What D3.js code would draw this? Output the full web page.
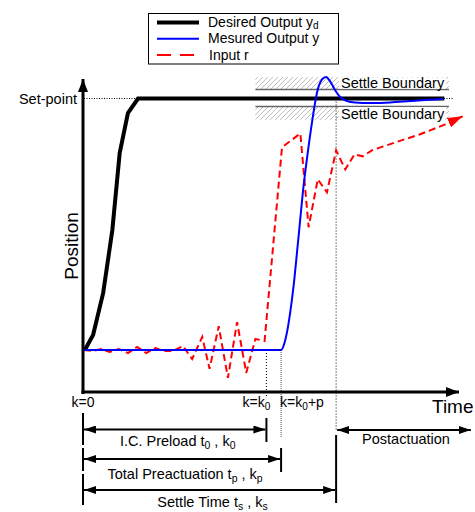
<!DOCTYPE html>
<html>
<head>
<meta charset="utf-8">
<script src="https://cdn.jsdelivr.net/npm/d3@7"></script>
<style>
  html, body { margin: 0; padding: 0; background: #fff; }
  svg { display: block; font-family: "Liberation Sans", Arial, sans-serif; }
</style>
</head>
<body>
<svg id="chart" width="475" height="512"></svg>
<script>
// Time in sample steps k, position normalised so 0 = start level, 1 = set-point
const desiredK   = [0.2, 1.1, 2.2, 3.2, 4.0, 4.9, 6.0, 39.4];
const desiredPos = [0.0, 0.06, 0.227, 0.477, 0.783, 0.942, 1.0, 1.0];

const measuredK   = [0, 21.6, 21.9, 22.25, 22.6, 23.0, 23.33, 23.66, 24.0, 24.43, 24.97, 25.52, 26.07, 26.5, 26.93, 27.48, 28.03, 28.79, 29.66, 31.3, 33.5, 35.7, 37.3, 39.3];
const measuredPos = [0, 0, 0.02, 0.072, 0.151, 0.266, 0.386, 0.509, 0.636, 0.763, 0.905, 1.024, 1.076, 1.085, 1.069, 1.034, 1.006, 0.99, 0.984, 0.982, 0.984, 0.99, 0.994, 0.998];

const inputK   = [0.1, 1.1, 2.0, 2.9, 3.9, 4.9, 5.9, 6.9, 7.9, 8.8, 9.8, 10.9, 11.9, 13.0, 13.8, 14.8, 15.8, 16.8, 17.8, 18.8, 19.8, 21.7, 23.7, 24.6, 25.6, 26.6, 27.6, 28.6, 29.6, 30.5, 31.5, 34.0, 36.7, 39.5, 41.4];
const inputPos = [0, -0.004, 0.004, -0.008, 0.004, -0.012, 0.012, -0.012, 0.008, -0.004, -0.004, 0.016, -0.036, 0.052, -0.075, 0.095, -0.111, 0.111, -0.091, 0.044, 0.036, 0.806, 0.861, 0.488, 0.679, 0.627, 0.794, 0.718, 0.778, 0.770, 0.794, 0.825, 0.857, 0.897, 0.929];

// Key instants on the time axis: k = 0, k0, k0 + p, ks
const kZero = 0, kPreload = 20, kPreact = 21.6, kSettle = 27.6, kEnd = 41;
const setPoint = 1;
const settleUpper = [1.036, 1.085];
const settleLower = [0.968, 0.915];
const bandK = [18.8, 39.9];

const legendLabels = [
  [{t: "Desired Output y"}, {t: "d", sub: true}],
  [{t: "Mesured Output y"}],
  [{t: "Input r"}]
];

const svg = d3.select("#chart");
const x = d3.scaleLinear().domain([0, kEnd]).range([83, 459]);
const y = d3.scaleLinear().domain([0, 1]).range([350, 98.5]);

const defs = svg.append("defs");
const hatch = defs.append("pattern")
  .attr("id", "hatch").attr("patternUnits", "userSpaceOnUse")
  .attr("width", 5).attr("height", 5);
hatch.append("path").attr("d", "M-1,1 L1,-1 M0,5 L5,0 M4,6 L6,4")
  .attr("stroke", "#bdbdbd").attr("stroke-width", 1);

function arrowMarker(id, color, w, h) {
  defs.append("marker").attr("id", id)
    .attr("viewBox", `0 0 ${w} ${h}`).attr("refX", w).attr("refY", h / 2)
    .attr("markerWidth", w).attr("markerHeight", h)
    .attr("markerUnits", "userSpaceOnUse").attr("orient", "auto-start-reverse")
    .append("path").attr("d", `M0,0 L${w},${h / 2} L0,${h} Z`).attr("fill", color);
}
arrowMarker("arrBlack", "#000", 12, 8);
arrowMarker("arrAxis", "#000", 13, 10);
arrowMarker("arrRed", "#ff0000", 15, 10);

// Text made of plain runs and subscript runs
function richText(sel, parts, size, drop = 0.2) {
  let shift = 0;
  parts.forEach(p => {
    const ts = sel.append("tspan").text(p.t);
    if (p.sub) {
      const s = size * drop;
      ts.attr("font-size", size * 0.72).attr("dy", s - shift);
      shift = s;
    } else {
      ts.attr("font-size", size);
      if (shift) { ts.attr("dy", -shift); shift = 0; }
    }
  });
  return sel;
}

// Settling band around the set-point
[settleUpper, settleLower].forEach(b => {
  svg.append("rect")
    .attr("x", x(bandK[0])).attr("width", x(bandK[1]) - x(bandK[0]))
    .attr("y", y(d3.max(b))).attr("height", Math.abs(y(b[0]) - y(b[1])))
    .attr("fill", "url(#hatch)");
});
[settleUpper[0], settleLower[0]].forEach(v => {
  svg.append("line")
    .attr("x1", x(bandK[0])).attr("x2", x(bandK[1]))
    .attr("y1", y(v)).attr("y2", y(v))
    .attr("stroke", "#666").attr("stroke-width", 1.5);
});
[[settleUpper, 88], [settleLower, 118.5]].forEach(([b, base]) => {
  svg.append("rect")
    .attr("x", 339).attr("width", 107)
    .attr("y", y(d3.max(b)) + 0.5).attr("height", Math.abs(y(b[0]) - y(b[1])) - 1.2)
    .attr("fill", "#fff");
  svg.append("text").attr("x", 341).attr("y", base)
    .attr("font-size", 14.5).text("Settle Boundary");
});

// Set-point reference
svg.append("line")
  .attr("x1", x(0) + 1).attr("x2", x(40.3))
  .attr("y1", y(setPoint)).attr("y2", y(setPoint))
  .attr("stroke", "#000").attr("stroke-width", 1).attr("stroke-dasharray", "1,1.5");
svg.append("text").attr("x", 77).attr("y", 103.5).attr("text-anchor", "end")
  .attr("font-size", 14.5).text("Set-point");

// Vertical markers for k0, k0+p, ks
svg.append("line").attr("x1", x(kPreload)).attr("x2", x(kPreload))
  .attr("y1", y(0)).attr("y2", 398)
  .attr("stroke", "#000").attr("stroke-width", 1).attr("stroke-dasharray", "1,2");
svg.append("line").attr("x1", x(kPreact)).attr("x2", x(kPreact))
  .attr("y1", y(0)).attr("y2", 437)
  .attr("stroke", "#555").attr("stroke-width", 1).attr("stroke-dasharray", "1,1");
svg.append("line").attr("x1", x(kSettle)).attr("x2", x(kSettle))
  .attr("y1", y(setPoint)).attr("y2", 431)
  .attr("stroke", "#000").attr("stroke-width", 1).attr("stroke-dasharray", "1,2");

// Series
const line = d3.line().x(d => x(d[0])).y(d => y(d[1]));
svg.append("path")
  .datum(inputK.map((k, i) => [k, inputPos[i]]))
  .attr("d", line)
  .attr("fill", "none").attr("stroke", "#ff0000").attr("stroke-width", 2)
  .attr("stroke-dasharray", "7,4").attr("marker-end", "url(#arrRed)");
svg.append("path")
  .datum(desiredK.map((k, i) => [k, desiredPos[i]]))
  .attr("d", line)
  .attr("fill", "none").attr("stroke", "#000").attr("stroke-width", 4)
  .attr("stroke-linejoin", "miter");
svg.append("path")
  .datum(measuredK.map((k, i) => [k, measuredPos[i]]))
  .attr("d", line.curve(d3.curveMonotoneX))
  .attr("fill", "none").attr("stroke", "#0000ff").attr("stroke-width", 2);

// Axes with arrow heads
svg.append("line")
  .attr("x1", x(0)).attr("x2", x(0)).attr("y1", 394).attr("y2", 79)
  .attr("stroke", "#000").attr("stroke-width", 3).attr("marker-end", "url(#arrAxis)");
svg.append("line")
  .attr("x1", x(0) - 1.5).attr("x2", x(kEnd)).attr("y1", 392).attr("y2", 392)
  .attr("stroke", "#000").attr("stroke-width", 3).attr("marker-end", "url(#arrAxis)");

svg.append("text").attr("x", 432).attr("y", 413).attr("font-size", 19).text("Time");
svg.append("text").attr("transform", "translate(78,246) rotate(-90)")
  .attr("text-anchor", "middle").attr("font-size", 19).text("Position");

// Time axis labels
richText(svg.append("text").attr("x", x(kZero)).attr("y", 407).attr("text-anchor", "middle")
  .attr("font-size", 14), [{t: "k=0"}], 14);
richText(svg.append("text").attr("x", x(kPreload) + 4).attr("y", 407).attr("text-anchor", "end")
  .attr("font-size", 14), [{t: "k=k"}, {t: "0", sub: true}], 14);
richText(svg.append("text").attr("x", x(kPreact) - 1).attr("y", 407)
  .attr("font-size", 14), [{t: "k=k"}, {t: "0", sub: true}, {t: "+p"}], 14);

// Interval bars
const bars = [
  {x: x(kZero), segs: [[413, 445], [448, 471], [474, 505]]},
  {x: x(kPreload), segs: [[418, 442]]},
  {x: x(kPreact), segs: [[448, 472]]},
  {x: x(kSettle), segs: [[435, 503]]}
];
bars.forEach(b => b.segs.forEach(s => {
  svg.append("line").attr("x1", b.x).attr("x2", b.x).attr("y1", s[0]).attr("y2", s[1])
    .attr("stroke", "#000").attr("stroke-width", 2);
}));

const spans = [
  {from: kZero, to: kPreload, yy: 429.5, labelY: 446, parts: [{t: "I.C. Preload t"}, {t: "0", sub: true}, {t: " , k"}, {t: "0", sub: true}]},
  {from: kZero, to: kPreact, yy: 459, labelY: 479, parts: [{t: "Total Preactuation t"}, {t: "p", sub: true}, {t: " , k"}, {t: "p", sub: true}]},
  {from: kZero, to: kSettle, yy: 490, labelY: 507, parts: [{t: "Settle Time t"}, {t: "s", sub: true}, {t: " , k"}, {t: "s", sub: true}]},
  {from: kSettle, to: 42.4, yy: 430, labelY: 443.5, parts: [{t: "Postactuation"}]}
];
spans.forEach(s => {
  svg.append("line")
    .attr("x1", x(s.from) + 1).attr("x2", x(s.to) - 1)
    .attr("y1", s.yy).attr("y2", s.yy)
    .attr("stroke", "#000").attr("stroke-width", 2)
    .attr("marker-start", "url(#arrBlack)").attr("marker-end", "url(#arrBlack)");
  const cx = s.from === kSettle ? 406 : (x(s.from) + x(s.to)) / 2 + 3;
  richText(svg.append("text").attr("x", cx).attr("y", s.labelY)
    .attr("text-anchor", "middle").attr("font-size", 14.5), s.parts, 14.5);
});

// Legend
const lg = svg.append("g");
lg.append("rect").attr("x", 148.5).attr("y", 13.5).attr("width", 190).attr("height", 50.5)
  .attr("fill", "#fff").attr("stroke", "#000").attr("stroke-width", 1);
const legendStyles = [
  {stroke: "#000", w: 4, dash: null},
  {stroke: "#0000ff", w: 2, dash: null},
  {stroke: "#ff0000", w: 2, dash: "14,9"}
];
legendLabels.forEach((parts, i) => {
  const ly = 22.5 + i * 16.2;
  const st = legendStyles[i];
  lg.append("line").attr("x1", 157).attr("x2", 199).attr("y1", ly).attr("y2", ly)
    .attr("stroke", st.stroke).attr("stroke-width", st.w)
    .attr("stroke-dasharray", st.dash);
  richText(lg.append("text").attr("x", i === 2 ? 209 : 208).attr("y", ly + 4.6)
    .attr("font-size", 14), parts, 14, 0.1);
});
</script>
</body>
</html>
